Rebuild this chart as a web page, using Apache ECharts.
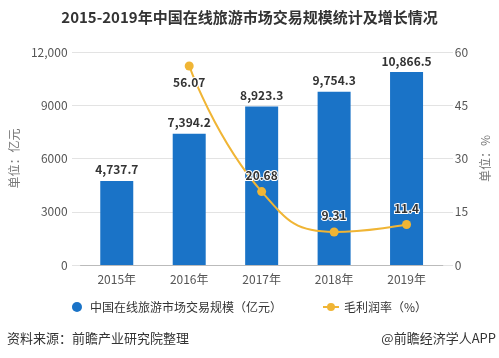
<!DOCTYPE html>
<html><head><meta charset="utf-8">
<script src="https://cdn.jsdelivr.net/npm/echarts@6/dist/echarts.min.js"></script>
<style>html,body{margin:0;padding:0;background:#fff}#c{width:499px;height:358px}</style>
</head><body><div id="c"></div>
<script>
const categories = ['2015年','2016年','2017年','2018年','2019年'];
const marketSize = [4737.7, 7394.2, 8923.3, 9754.3, 10866.5];
const grossMargin = [null, 56.07, 20.68, 9.31, 11.4];
const leftTicks = {0:'0',3000:'3000',6000:'6000',9000:'9000',12000:'12,000'};

const chart = echarts.init(document.getElementById('c'));
const font = '"Microsoft YaHei","Noto Sans CJK SC",sans-serif';
chart.setOption({
  animation:false,
  textStyle:{fontFamily:font},
  title:{text:'2015-2019年中国在线旅游市场交易规模统计及增长情况',left:'center',top:5,
    textStyle:{fontSize:15,fontWeight:'bold',color:'#333',fontFamily:font}},
  grid:[{left:80,right:56,top:52,bottom:93},{left:72,right:46,top:52,bottom:93}],
  legend:{bottom:40,left:'center',itemGap:40,itemWidth:16,itemHeight:10,
    textStyle:{fontSize:12,color:'#333'},
    data:[{name:'中国在线旅游市场交易规模（亿元）',icon:'circle'},{name:'毛利润率（%）'}]},
  graphic:[
    {type:'text',left:7,top:332,style:{text:'资料来源：前瞻产业研究院整理',fill:'#333',font:'13px '+font}},
    {type:'text',right:3,top:332,style:{text:'@前瞻经济学人APP',fill:'#333',font:'13px '+font}}
  ],
  xAxis:[{type:'category',data:categories,gridIndex:0,
    axisLine:{lineStyle:{color:'#bbb'}},axisTick:{alignWithLabel:true,lineStyle:{color:'#bbb'}},
    axisLabel:{color:'#555',fontSize:12,margin:8}},
    {type:'category',data:categories,gridIndex:1,show:false}],
  yAxis:[
    {type:'value',min:0,max:12000,interval:3000,gridIndex:0,name:'单位：亿元',nameLocation:'middle',nameGap:52,nameRotate:90,
     nameTextStyle:{color:'#777',fontSize:12},
     axisLine:{show:false},axisTick:{show:false},splitLine:{show:false},
     axisLabel:{color:'#555',fontSize:12,margin:13,formatter:v=>leftTicks[v]}},
    {type:'value',min:0,max:60,interval:15,gridIndex:0,position:'right',name:'单位：%',nameLocation:'middle',nameGap:29,nameRotate:90,
     nameTextStyle:{color:'#777',fontSize:12},
     axisLine:{show:false},axisTick:{show:false},splitLine:{show:false},
     axisLabel:{color:'#555',fontSize:12,margin:12}},
    {type:'value',min:0,max:12000,interval:3000,gridIndex:1,
     axisLine:{show:false},axisTick:{show:false},axisLabel:{show:false},
     splitLine:{lineStyle:{color:'#e3e3e3'}}}
  ],
  series:[
    {name:'中国在线旅游市场交易规模（亿元）',type:'bar',data:marketSize,barWidth:33,
     itemStyle:{color:'#1a73c7'},
     label:{show:true,position:'top',distance:5,color:'#333',fontSize:12,fontWeight:'bold',
       formatter:p=>p.value.toLocaleString('en-US',{minimumFractionDigits:1,maximumFractionDigits:1})}},
    {name:'毛利润率（%）',type:'line',yAxisIndex:1,smooth:true,
     symbol:'circle',symbolSize:9,connectNulls:false,
     lineStyle:{color:'#f0b535',width:2},itemStyle:{color:'#f0b535'},
     label:{show:true,color:'#333',fontSize:12,fontWeight:'bold',textBorderColor:'#fff',textBorderWidth:2,
       position:'top',distance:6},
     data:grossMargin.map((v,i)=>i===1?{value:v,label:{position:'bottom',distance:6}}:v)}
  ]
});
</script></body></html>
